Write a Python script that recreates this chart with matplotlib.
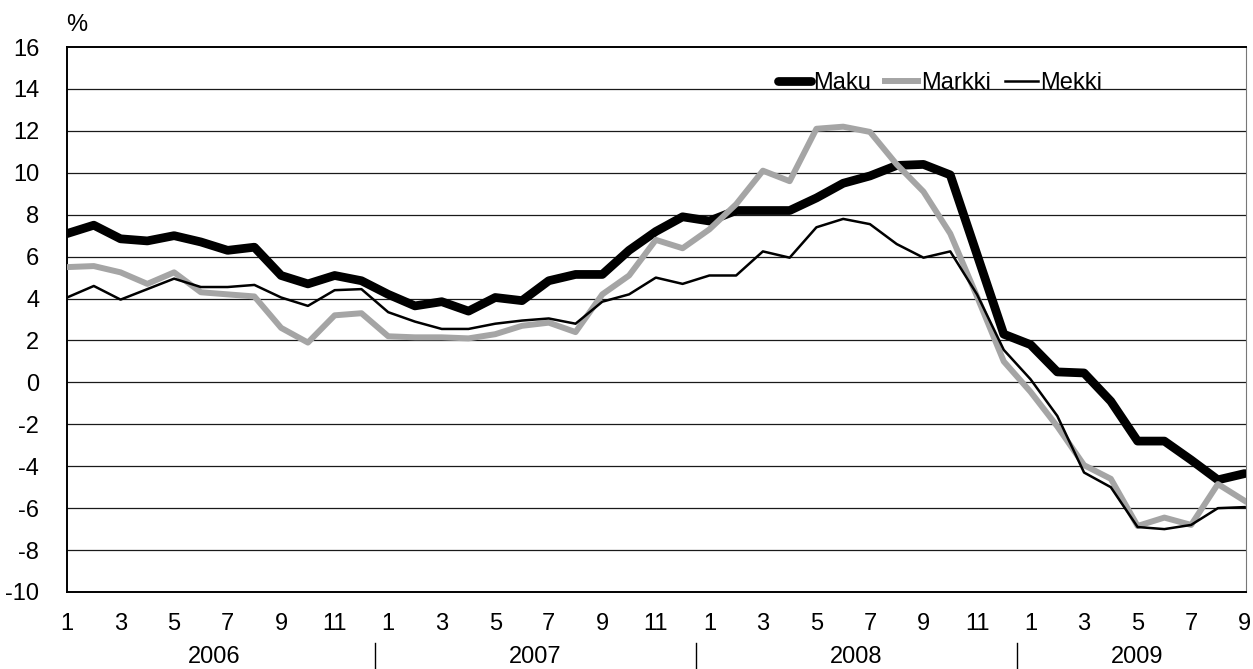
import numpy as np
import matplotlib.pyplot as plt
from matplotlib import transforms

# monthly series, 2006-1 .. 2009-9
years = [2006, 2007, 2008, 2009]
months_in_year = [12, 12, 12, 9]

maku = [7.1, 7.5, 6.85, 6.75, 7.0, 6.7, 6.3, 6.45, 5.1, 4.7, 5.1, 4.85,
        4.2, 3.65, 3.85, 3.4, 4.05, 3.9, 4.85, 5.15, 5.15, 6.3, 7.2, 7.9,
        7.7, 8.2, 8.2, 8.2, 8.8, 9.5, 9.85, 10.35, 10.4, 9.9, 6.1, 2.3,
        1.8, 0.5, 0.45, -0.9, -2.8, -2.8, -3.7, -4.65, -4.35]
markki = [5.5, 5.55, 5.25, 4.7, 5.25, 4.3, 4.2, 4.1, 2.6, 1.9, 3.2, 3.3,
          2.2, 2.15, 2.15, 2.1, 2.3, 2.7, 2.85, 2.4, 4.2, 5.1, 6.8, 6.4,
          7.3, 8.5, 10.1, 9.6, 12.1, 12.2, 11.95, 10.4, 9.1, 7.1, 4.1, 1.0,
          -0.45, -2.1, -3.95, -4.6, -6.85, -6.45, -6.8, -4.85, -5.65]
mekki = [4.05, 4.6, 3.95, 4.45, 4.95, 4.55, 4.55, 4.65, 4.05, 3.65, 4.4, 4.45,
         3.35, 2.9, 2.55, 2.55, 2.8, 2.95, 3.05, 2.8, 3.85, 4.2, 5.0, 4.7,
         5.1, 5.1, 6.25, 5.95, 7.4, 7.8, 7.55, 6.6, 5.95, 6.25, 4.2, 1.55,
         0.15, -1.6, -4.3, -5.0, -6.9, -7.0, -6.8, -6.0, -5.95]

yticks = list(range(-10, 17, 2))

plt.rcParams['font.family'] = ['Liberation Sans', 'DejaVu Sans']
fs = 17

fig = plt.figure(figsize=(12.53, 6.69), dpi=100)
ax = fig.add_axes([0.0535, 0.1151, 0.9409, 0.8146])

x = np.arange(len(maku))
ax.plot(x, maku, color='black', lw=6.3, solid_capstyle='round', label='Maku', zorder=3)
ax.plot(x, markki, color='#a5a5a5', lw=4.3, label='Markki', zorder=4)
ax.plot(x, mekki, color='black', lw=1.8, label='Mekki', zorder=5)

ax.set_xlim(0, len(maku) - 0.95)
ax.set_ylim(-10, 16)
ax.set_yticks(yticks)
ax.set_yticklabels([str(v) for v in yticks], fontsize=fs)
for v in yticks[1:-1]:
    ax.axhline(v, color='#1a1a1a', lw=0.9, zorder=1)

# month labels on odd months
month_nums = [m + 1 for n in months_in_year for m in range(n)]
ax.set_xticks(x[::2])
ax.set_xticklabels([str(month_nums[i]) for i in x[::2]], fontsize=fs)
ax.tick_params(axis='both', length=0)
ax.tick_params(axis='x', pad=15)
ax.tick_params(axis='y', pad=20)

for s in ['left', 'top', 'bottom']:
    ax.spines[s].set_color('black')
    ax.spines[s].set_linewidth(1.4)
ax.spines['right'].set_color('#777777')
ax.spines['right'].set_linewidth(0.8)

# year labels and separators
trans = transforms.blended_transform_factory(ax.transData, fig.transFigure)
start = 0
for yr, n in zip(years, months_in_year):
    ax.text(start + (n - 1) / 2, 1 - 657 / 669, str(yr), transform=trans,
            ha='center', va='center', fontsize=fs)
    if start > 0:
        ax.plot([start - 0.5, start - 0.5], [1 - 643 / 669, 0], color='black',
                lw=1.0, transform=trans, clip_on=False)
    start += n

fig.text(77 / 1253, 1 - 25 / 669, '%', fontsize=fs, ha='center', va='center')

ax.legend(loc='center left', bbox_to_anchor=(0.603, 0.934), ncol=3, frameon=False,
          fontsize=fs, handlelength=1.4, handletextpad=0.1, columnspacing=0.6,
          borderpad=0, borderaxespad=0)

fig.savefig('out.png', dpi=100, facecolor='white')
